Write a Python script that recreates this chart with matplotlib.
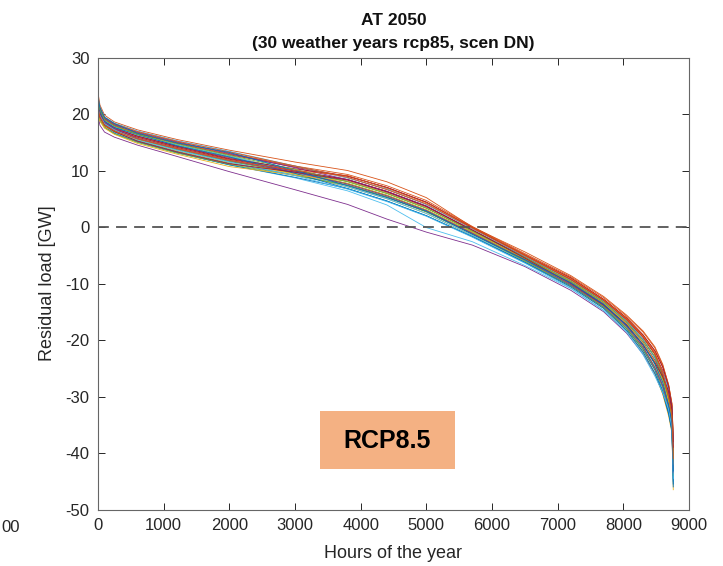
import matplotlib
matplotlib.use("Agg")
import matplotlib.pyplot as plt
from matplotlib.patches import Rectangle

plt.rcParams['font.family'] = ['Liberation Sans', 'DejaVu Sans']
plt.rcParams['axes.unicode_minus'] = False

hours = [0, 30, 100, 250, 600, 1200, 2000, 3000, 3800, 4400, 5000,
         5700, 6500, 7200, 7700, 8050, 8300, 8480, 8600, 8690, 8740, 8760]

# residual load [GW], one list per weather year
years = [
    [20.9, 19.6, 18.2, 17.1, 15.5, 13.7, 11.6, 9.7, 8.1, 6.0, 3.4, -0.8, -5.4, -9.5, -13.2, -16.7, -19.9, -23.1, -26.9, -31.1, -34.3, -42.5],
    [23.8, 21.6, 19.8, 18.6, 17.2, 15.5, 13.6, 11.5, 10.0, 8.0, 5.2, 0.0, -4.4, -8.6, -12.3, -15.6, -18.4, -21.2, -24.3, -28.0, -31.3, -37.0],
    [21.7, 20.1, 18.6, 17.5, 16.0, 14.2, 12.2, 9.7, 7.4, 5.3, 2.7, -1.2, -6.0, -10.4, -14.2, -18.0, -21.7, -25.3, -28.4, -31.7, -34.8, -43.5],
    [19.8, 18.0, 16.8, 15.9, 14.5, 12.5, 9.8, 6.6, 4.0, 1.4, -0.9, -3.2, -7.0, -11.2, -15.0, -18.8, -22.5, -26.0, -29.5, -33.0, -36.0, -44.0],
    [22.1, 20.4, 18.8, 17.7, 16.3, 14.5, 12.5, 9.9, 7.7, 5.6, 3.0, -1.0, -5.7, -9.9, -13.7, -17.4, -20.8, -24.2, -26.9, -29.9, -33.2, -40.5],
    [20.0, 18.9, 17.6, 16.5, 15.0, 13.1, 11.0, 8.7, 6.4, 3.9, -0.1, -2.6, -6.8, -10.9, -14.8, -18.5, -22.3, -25.8, -29.2, -32.6, -35.8, -43.0],
    [22.5, 20.7, 19.1, 18.0, 16.5, 14.8, 12.8, 10.6, 9.0, 7.0, 4.4, -0.1, -5.0, -9.3, -13.0, -16.4, -19.5, -22.5, -25.4, -28.7, -32.0, -38.5],
    [20.5, 19.3, 17.9, 16.8, 15.3, 13.4, 11.3, 9.2, 7.4, 5.3, 2.7, -1.2, -5.8, -9.9, -13.7, -17.4, -20.8, -24.2, -28.1, -32.3, -35.4, -44.5],
    [22.9, 21.0, 19.3, 18.2, 16.7, 15.0, 13.1, 10.7, 8.7, 6.7, 4.0, -0.3, -5.0, -9.0, -12.8, -16.1, -19.1, -21.9, -24.8, -28.1, -31.5, -37.5],
    [21.3, 19.9, 18.4, 17.3, 15.8, 14.0, 11.9, 9.4, 7.1, 5.0, 2.4, -1.5, -6.2, -10.6, -14.4, -18.3, -22.1, -25.9, -29.6, -33.5, -36.5, -46.5],
    [21.6, 20.2, 18.7, 17.6, 16.1, 14.3, 12.3, 10.0, 8.4, 6.3, 3.7, -0.6, -5.3, -9.5, -13.2, -16.7, -19.9, -23.1, -26.0, -29.3, -32.6, -39.5],
    [20.8, 19.5, 18.1, 17.0, 15.6, 13.8, 11.7, 9.5, 7.7, 5.6, 3.0, -1.0, -5.6, -9.7, -13.5, -17.0, -20.4, -23.6, -27.2, -31.3, -34.5, -43.0],
    [22.0, 20.3, 18.9, 17.8, 16.2, 14.6, 12.6, 9.7, 7.1, 5.0, 2.4, -1.5, -6.0, -10.1, -14.0, -17.7, -21.3, -24.7, -28.4, -32.0, -35.8, -45.0],
    [21.2, 19.8, 18.3, 17.2, 15.9, 14.1, 12.0, 9.9, 8.4, 6.3, 3.7, -0.6, -5.2, -9.3, -13.0, -16.4, -19.5, -22.5, -26.3, -30.5, -33.7, -41.5],
    [20.1, 19.0, 17.7, 16.6, 15.1, 13.2, 11.0, 8.8, 6.8, 4.6, 2.0, -1.7, -6.2, -10.4, -14.2, -18.0, -21.7, -25.3, -29.0, -32.9, -36.0, -45.5],
    [22.4, 20.6, 19.0, 17.9, 16.6, 14.9, 12.9, 10.8, 9.3, 7.3, 4.7, 0.1, -4.7, -8.8, -12.5, -15.8, -18.6, -21.4, -24.5, -27.9, -31.2, -37.0],
    [20.4, 19.2, 17.8, 16.9, 15.4, 13.5, 11.4, 9.4, 7.7, 5.6, 3.0, -1.0, -5.8, -10.1, -14.0, -17.7, -21.3, -24.7, -27.5, -30.7, -33.9, -41.0],
    [22.8, 20.9, 19.2, 18.1, 16.8, 15.1, 13.0, 10.5, 8.4, 6.3, 3.7, -0.6, -5.4, -9.7, -13.5, -17.0, -20.4, -23.6, -26.3, -29.5, -32.8, -40.0],
    [20.0, 18.9, 17.6, 16.5, 15.0, 13.1, 11.1, 9.1, 7.4, 5.3, 2.7, -1.2, -6.0, -10.3, -14.1, -17.9, -21.5, -25.0, -28.4, -31.9, -35.0, -44.0],
    [23.3, 21.3, 19.5, 18.4, 17.0, 15.3, 13.4, 10.8, 8.7, 6.7, 4.0, -0.3, -5.2, -9.5, -13.2, -16.7, -19.9, -23.1, -25.7, -28.7, -32.0, -38.5],
    [21.8, 20.2, 18.5, 17.4, 16.1, 14.3, 12.1, 10.3, 9.0, 7.0, 4.4, -0.1, -4.9, -9.0, -12.8, -16.1, -19.1, -21.9, -24.8, -28.3, -31.8, -38.0],
    [22.2, 20.5, 18.7, 17.6, 16.4, 14.4, 12.4, 9.5, 6.8, 4.6, 2.0, -1.7, -6.3, -10.6, -14.4, -18.3, -22.1, -25.9, -29.3, -33.1, -36.2, -46.0],
    [23.2, 21.2, 19.4, 18.3, 16.9, 15.2, 13.3, 10.8, 8.8, 6.6, 4.1, -0.2, -5.1, -9.3, -13.0, -16.4, -19.5, -22.5, -26.0, -29.9, -33.2, -40.5],
    [19.7, 18.7, 17.5, 16.4, 14.8, 12.9, 10.7, 9.2, 8.1, 6.0, 3.4, -0.8, -5.5, -9.6, -13.4, -17.1, -20.5, -23.8, -27.2, -30.9, -34.1, -42.0],
    [21.4, 19.9, 18.5, 17.4, 15.7, 13.9, 11.8, 9.7, 7.6, 5.5, 2.9, -1.1, -5.8, -10.2, -13.9, -17.6, -21.2, -24.9, -28.1, -31.7, -34.8, -43.5],
    [22.6, 20.8, 19.0, 17.9, 16.4, 14.7, 12.7, 10.2, 8.0, 5.9, 3.3, -0.7, -5.4, -9.6, -13.3, -16.8, -20.1, -22.9, -26.6, -30.3, -33.5, -41.2],
    [21.0, 19.7, 18.3, 17.2, 15.4, 13.6, 11.5, 9.1, 6.7, 4.5, 1.9, -1.8, -6.4, -10.8, -14.7, -18.6, -22.6, -26.4, -29.3, -32.3, -35.4, -44.5],
    [20.6, 19.4, 18.0, 16.9, 15.2, 13.3, 11.2, 9.7, 8.3, 6.2, 3.6, -0.5, -5.5, -10.0, -13.8, -17.3, -20.9, -24.0, -26.5, -29.1, -32.4, -39.0],
    [23.0, 21.1, 19.4, 18.3, 16.6, 14.9, 13.2, 10.0, 7.3, 5.2, 2.8, -1.3, -5.8, -9.9, -13.7, -17.4, -20.8, -24.2, -27.5, -31.5, -34.6, -43.2],
    [21.0, 19.5, 18.0, 17.0, 15.6, 13.9, 11.8, 10.0, 9.1, 6.9, 4.3, 0.0, -4.9, -9.1, -12.9, -16.2, -19.3, -22.2, -25.7, -30.1, -33.4, -41.0],
]

# MATLAB default line colour order
colors = ["#0072BD", "#D95319", "#EDB120", "#7E2F8E", "#77AC30", "#4DBEEE", "#A2142F"]

fig = plt.figure(figsize=(7.23, 5.66), dpi=100)
ax = fig.add_axes([0.1355, 0.0998, 0.8175, 0.7986])

for i, vals in enumerate(years):
    ax.plot(hours, vals, lw=0.6, color=colors[i % 7])

ax.axhline(0, color="#555555", lw=1.3, ls=(0, (6, 4)))

ax.set_xlim(0, 9000)
ax.set_ylim(-50, 30)
ax.set_xticks(range(0, 9001, 1000))
ax.set_yticks(range(-50, 31, 10))
ax.tick_params(direction="in", top=True, right=True, length=5, width=0.7,
               labelsize=12, colors="#262626", pad=6)
for s in ax.spines.values():
    s.set_color("#666666")
    s.set_linewidth(0.8)

ax.set_xlabel("Hours of the year", fontsize=13, color="#262626", labelpad=9)
ax.set_ylabel("Residual load [GW]", fontsize=13, color="#262626", labelpad=7)
ax.set_title("AT 2050\n(30 weather years rcp85, scen DN)", fontsize=12.5,
             fontweight="bold", color="#111111", pad=7, linespacing=1.65)

# RCP8.5 label box
fig.patches.append(Rectangle((320 / 723, 1 - 469 / 566), 135 / 723, 58 / 566,
                             transform=fig.transFigure, facecolor="#F4B183",
                             edgecolor="none", zorder=5))
fig.text(387 / 723, 1 - 441 / 566, "RCP8.5", ha="center", va="center",
         fontsize=18, fontweight="bold", color="black", zorder=6)

# visible end of the neighbouring chart's last tick label
fig.text(20 / 723, 1 - 528 / 566, "00", ha="right", va="center",
         fontsize=12, color="#262626")

fig.savefig("out.png", dpi=100)
